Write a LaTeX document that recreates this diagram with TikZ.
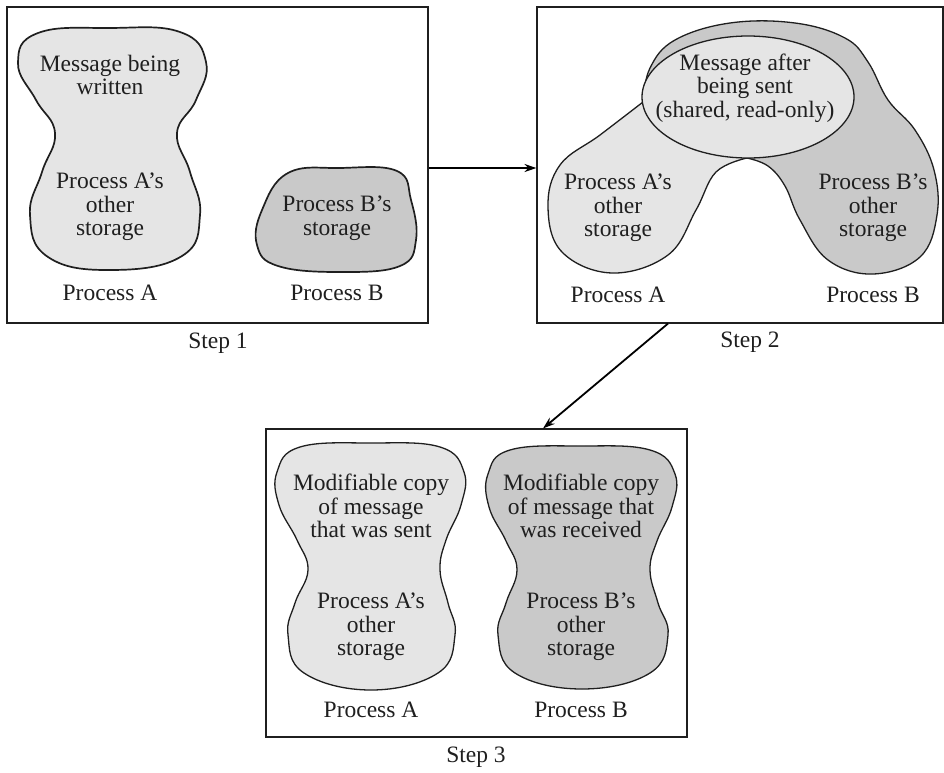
\documentclass[tikz,border=0pt]{standalone}
\usepackage{fontspec}
\setmainfont{Liberation Serif}
\usetikzlibrary{arrows.meta}
\definecolor{lightfill}{gray}{0.90}
\definecolor{darkfill}{gray}{0.79}
\definecolor{inkc}{gray}{0.12}
\tikzset{
  framebox/.style={draw=inkc, line width=1.1pt, minimum width=#1, inner sep=0pt},
  lightblob/.style={draw=inkc, fill=lightfill, line width=1.3pt},
  darkblob/.style={draw=inkc, fill=darkfill, line width=1.3pt},
  lbl/.style={font=\fontsize{23.5}{23.5}\selectfont, text=inkc, align=center, inner sep=0pt},
  conn/.style={draw=black, line width=1.8pt, -{Stealth[length=12pt,width=8pt]}}
}
\begin{document}
\begin{tikzpicture}[x=1pt,y=-1pt]
\useasboundingbox (0,0) rectangle (944,772);
% frames
\node[framebox=421pt, minimum height=316pt] (box1) at (217.5,165) {};
\node[framebox=406pt, minimum height=316pt] (box2) at (740,165) {};
\node[framebox=421pt, minimum height=308pt] (box3) at (476.5,583) {};
% step 1 shapes
\draw[lightblob, line width=1.7pt] plot[smooth cycle, tension=0.75] coordinates {
 (110,28) (180,32) (206,62) (196,100) (177,133) (190,172) (200,215) (182,256) (112,270)
 (48,257) (30,215) (42,172) (55,133) (36,100) (18,63) (38,33)};
\draw[darkblob, line width=1.7pt] plot[smooth cycle, tension=0.7] coordinates {
 (340,168) (397,171) (411,200) (416,240) (400,266) (340,272) (278,266) (257,245) (262,210) (288,173)};
% step 2 shapes
\draw[darkblob] plot[smooth, tension=0.65] coordinates {
 (643,102) (650,68) (675,40) (730,23) (795,23) (845,38) (868,62) (888,100) (915,130)
 (934,170) (937,215) (920,257) (873,274) (828,260) (800,220) (785,186) (768,166) (747,158)} -- cycle;
\draw[lightblob] plot[smooth, tension=0.65] coordinates {
 (643,102) (600,135) (560,165) (548,207) (562,252) (612,273) (668,255) (696,210)
 (716,172) (747,158)} -- cycle;
\draw[lightblob] (748,97) ellipse [x radius=106, y radius=61];
% step 3 shapes
\draw[lightblob] plot[smooth cycle, tension=0.7] coordinates {
 (371,443) (440,447) (464,472) (461,505) (446,540) (440,570) (448,603) (455,635) (438,673) (371,690)
 (304,673) (288,635) (295,603) (308,570) (297,540) (279,505) (277,472) (300,447)};
\draw[darkblob] plot[smooth cycle, tension=0.7] coordinates {
 (581,446) (650,450) (675,474) (672,507) (657,541) (650,570) (658,603) (668,635) (650,673) (582,689)
 (515,673) (498,635) (506,603) (517,570) (506,541) (489,507) (488,474) (510,450)};
% texts step 1
\node[lbl] (s1msg) at (110,75) {Message being\\written};
\node[lbl] (s1aoth) at (110,207) {Process A’s\\other\\storage};
\node[lbl] (s1bst) at (337,218) {Process B’s\\storage};
\node[lbl] (s1pa) at (110,293) {Process A};
\node[lbl] (s1pb) at (337,293) {Process B};
\node[lbl] (step1) at (218,343) {Step 1};
% texts step 2
\node[lbl] (s2msg) at (745,88) {Message after\\being sent\\(shared, read-only)};
\node[lbl] (s2aoth) at (618,208) {Process A’s\\other\\storage};
\node[lbl] (s2both) at (873,208) {Process B’s\\other\\storage};
\node[lbl] (s2pa) at (618,295) {Process A};
\node[lbl] (s2pb) at (873,295) {Process B};
\node[lbl] (step2) at (750,342) {Step 2};
% texts step 3
\node[lbl] (s3amsg) at (371,506) {Modifiable copy\\of message\\that was sent};
\node[lbl] (s3bmsg) at (581,506) {Modifiable copy\\of message that\\was received};
\node[lbl] (s3aoth) at (371,627) {Process A’s\\other\\storage};
\node[lbl] (s3both) at (581,627) {Process B’s\\other\\storage};
\node[lbl] (s3pa) at (371,710) {Process A};
\node[lbl] (s3pb) at (581,710) {Process B};
\node[lbl] (step3) at (476,757) {Step 3};
% connectors
\draw[conn] ([yshift=-3pt]box1.east) -- ([yshift=-3pt]box2.west);
\draw[conn] ([xshift=-72pt]box2.south) -- ([xshift=66.5pt]box3.north);
\end{tikzpicture}
\end{document}
